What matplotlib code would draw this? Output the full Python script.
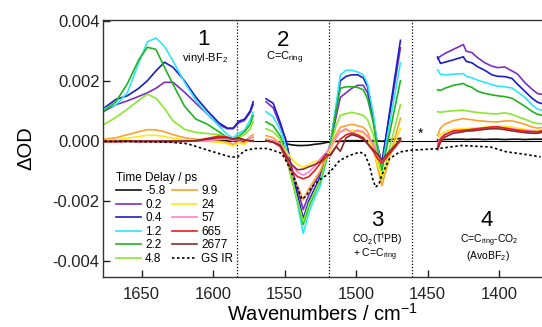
import matplotlib
matplotlib.use("Agg")
import matplotlib.pyplot as plt
import numpy as np
from matplotlib.ticker import FormatStrFormatter

plt.rcParams["font.family"] = ["Liberation Sans", "DejaVu Sans"]
plt.rcParams["mathtext.fontset"] = "custom"
plt.rcParams["mathtext.rm"] = "Liberation Sans"
plt.rcParams["mathtext.it"] = "Liberation Sans:italic"
plt.rcParams["mathtext.default"] = "regular"
plt.rcParams["axes.unicode_minus"] = False

# time delays (ps) and trace colours
delays = ["-5.8", "0.2", "0.4", "1.2", "2.2", "4.8", "9.9", "24", "57", "665", "2677"]
colors = ["#111111", "#7a2fc4", "#1c1cc8", "#2ee6f6", "#1fb41f", "#8ae82c",
          "#ffa12a", "#ffe81a", "#ff80cc", "#ee1c1c", "#8b2a2a"]

# region 1 (mOD), one row per delay
seg1_wn = [1676, 1668, 1660, 1652, 1646, 1640, 1634, 1628, 1620, 1612, 1604, 1596, 1590, 1586, 1582, 1578, 1574, 1572]
seg1_vals = [
    [-0.02, -0.02, -0.01, -0.02, -0.01, -0.01, -0.01, -0.01, -0.01, 0.0, 0.0, 0.0, 0.0, 0.0, 0.0, 0.0, 0.0, 0.0],
    [0.99, 1.2, 1.33, 1.48, 1.6, 1.75, 1.95, 1.95, 1.62, 1.25, 0.89, 0.53, 0.4, 0.4, 0.6, 0.68, 0.95, 1.2],
    [1.1, 1.38, 1.5, 1.75, 2.0, 2.33, 2.62, 2.45, 2.0, 1.45, 1.0, 0.6, 0.42, 0.42, 0.65, 0.72, 1.0, 1.3],
    [1.07, 1.2, 1.6, 2.6, 3.3, 3.43, 3.15, 2.66, 1.95, 1.35, 0.89, 0.5, 0.2, 0.1, 0.25, 0.35, 0.7, 0.95],
    [1.0, 1.3, 1.9, 2.7, 3.12, 3.05, 2.45, 1.88, 1.15, 0.72, 0.55, 0.3, 0.1, 0.05, 0.15, 0.3, 0.55, 0.84],
    [0.55, 0.78, 1.05, 1.35, 1.55, 1.42, 1.08, 0.66, 0.38, 0.28, 0.24, 0.2, 0.1, 0.02, 0.12, 0.2, 0.4, 0.64],
    [0.05, 0.1, 0.2, 0.3, 0.37, 0.36, 0.3, 0.2, 0.1, 0.05, 0.02, -0.02, -0.05, -0.12, -0.02, -0.08, 0.15, 0.2],
    [0.0, 0.03, 0.08, 0.14, 0.18, 0.18, 0.14, 0.08, 0.03, 0.0, -0.02, -0.05, -0.1, -0.18, -0.08, -0.12, 0.03, 0.05],
    [-0.03, -0.03, -0.02, -0.02, -0.02, -0.02, -0.02, -0.02, -0.02, -0.01, 0.0, 0.05, 0.05, 0.0, 0.05, 0.0, 0.1, 0.12],
    [-0.03, -0.03, -0.02, -0.03, -0.03, -0.03, -0.03, -0.03, -0.02, 0.0, 0.08, 0.15, 0.12, 0.05, 0.1, 0.02, 0.0, -0.02],
    [-0.02, -0.02, -0.02, -0.02, -0.02, -0.02, -0.02, -0.02, -0.01, 0.0, 0.05, 0.1, 0.1, 0.05, 0.08, 0.03, 0.0, 0.0],
]

# regions 2 + 3 (mOD)
seg2_wn = [1563, 1558, 1553, 1549, 1545, 1541, 1537, 1533, 1529, 1525, 1521, 1518, 1514,
           1511, 1507, 1503, 1499, 1495, 1492, 1488, 1485, 1482, 1478, 1474, 1469]
seg2_vals = [
    [0.0, -0.02, -0.05, -0.1, -0.14, -0.16, -0.16, -0.15, -0.12, -0.1, -0.06, -0.04, -0.02, -0.02, 0.0, 0.0, 0.0, 0.0, 0.0, 0.0, 0.0, -0.02, 0.02, 0.05, 0.08],
    [1.3, 1.1, 0.5, 0.0, -0.9, -1.6, -2.3, -1.8, -1.4, -1.1, -0.6, -0.15, 0.8, 1.45, 1.6, 1.75, 1.85, 1.85, 1.6, 0.7, -0.2, -0.75, 0.43, 1.62, 3.1],
    [1.4, 1.25, 0.6, 0.0, -1.0, -1.8, -2.6, -2.0, -1.6, -1.2, -0.6, -0.1, 1.1, 2.0, 2.15, 2.2, 2.2, 2.1, 1.8, 0.8, -0.2, -0.75, 0.5, 1.77, 3.35],
    [0.97, 0.8, 0.35, -0.2, -1.2, -2.1, -3.1, -2.4, -1.9, -1.5, -0.7, -0.1, 1.2, 2.2, 2.35, 2.35, 2.3, 2.2, 1.9, 0.9, -0.2, -0.9, 0.18, 1.25, 2.6],
    [0.63, 0.5, 0.15, -0.4, -1.3, -2.0, -2.8, -2.2, -1.75, -1.35, -0.65, -0.15, 1.0, 1.75, 1.8, 1.8, 1.78, 1.7, 1.4, 0.6, -0.3, -1.0, -0.08, 0.85, 2.0],
    [0.4, 0.3, 0.05, -0.5, -1.3, -2.0, -2.7, -2.1, -1.7, -1.3, -0.6, -0.2, 0.5, 0.85, 0.9, 0.95, 0.9, 0.85, 0.7, 0.2, -0.5, -1.3, -0.53, 0.24, 1.2],
    [0.17, 0.1, -0.1, -0.5, -1.1, -1.5, -1.98, -1.6, -1.3, -1.0, -0.5, -0.25, 0.2, 0.45, 0.5, 0.55, 0.5, 0.45, 0.3, -0.2, -0.9, -1.5, -0.8, -0.1, 0.75],
    [0.05, 0.0, -0.1, -0.35, -0.6, -0.8, -0.88, -0.8, -0.7, -0.65, -0.5, -0.3, 0.1, 0.3, 0.35, 0.35, 0.3, 0.25, 0.1, -0.3, -0.8, -1.2, -0.7, -0.2, 0.4],
    [0.05, 0.0, -0.1, -0.45, -0.8, -1.05, -1.15, -1.05, -0.85, -0.6, -0.4, -0.2, 0.1, 0.3, 0.4, 0.25, 0.35, 0.3, 0.15, -0.1, -0.5, -0.7, -0.48, -0.27, 0.0],
    [0.0, -0.05, -0.2, -0.6, -1.0, -1.2, -1.27, -1.2, -1.0, -0.75, -0.55, -0.45, -0.2, 0.05, 0.2, 0.25, 0.2, 0.1, -0.1, -0.35, -0.6, -0.75, -0.52, -0.29, 0.0],
    [0.0, -0.05, -0.15, -0.5, -0.8, -0.97, -0.95, -0.87, -0.8, -0.7, -0.45, -0.5, -0.2, -0.35, 0.1, 0.2, 0.15, 0.05, -0.1, -0.3, -0.45, -0.65, -0.43, -0.22, 0.05],
]

# region 4 (mOD)
seg3_wn = [1443, 1441, 1438, 1432, 1425, 1423, 1419, 1415, 1410, 1405, 1401, 1396, 1391, 1387, 1382, 1377, 1373, 1370]
seg3_vals = [
    [0.02, 0.03, 0.04, 0.05, 0.05, 0.04, 0.05, 0.05, 0.04, 0.05, 0.05, 0.04, 0.05, 0.05, 0.04, 0.05, 0.05, 0.05],
    [2.74, 2.82, 2.91, 3.05, 3.21, 2.99, 2.94, 2.77, 2.6, 2.49, 2.44, 2.46, 2.33, 2.22, 1.94, 1.72, 1.57, 1.55],
    [2.8, 2.58, 2.62, 2.7, 2.8, 2.65, 2.6, 2.47, 2.35, 2.2, 2.15, 2.14, 2.08, 1.88, 1.65, 1.42, 1.28, 1.24],
    [2.36, 2.22, 2.2, 2.22, 2.24, 2.15, 2.1, 2.02, 1.95, 1.87, 1.82, 1.8, 1.76, 1.62, 1.45, 1.2, 1.05, 1.02],
    [1.7, 1.68, 1.75, 1.85, 1.91, 1.85, 1.78, 1.65, 1.58, 1.53, 1.5, 1.47, 1.42, 1.3, 1.15, 0.98, 0.88, 0.85],
    [0.97, 0.95, 0.97, 1.0, 1.02, 1.0, 0.97, 0.94, 0.92, 0.9, 0.9, 0.93, 0.88, 0.8, 0.72, 0.62, 0.57, 0.57],
    [0.18, 0.42, 0.55, 0.67, 0.74, 0.72, 0.7, 0.67, 0.65, 0.63, 0.63, 0.66, 0.66, 0.62, 0.55, 0.46, 0.42, 0.44],
    [0.1, 0.2, 0.3, 0.38, 0.4, 0.4, 0.42, 0.43, 0.45, 0.47, 0.48, 0.48, 0.45, 0.42, 0.38, 0.35, 0.33, 0.35],
    [-0.1, 0.1, 0.22, 0.3, 0.33, 0.35, 0.37, 0.4, 0.42, 0.45, 0.45, 0.43, 0.4, 0.37, 0.35, 0.32, 0.3, 0.33],
    [-0.2, 0.05, 0.2, 0.33, 0.35, 0.36, 0.38, 0.4, 0.43, 0.46, 0.46, 0.42, 0.38, 0.35, 0.32, 0.3, 0.3, 0.33],
    [-0.3, -0.05, 0.12, 0.25, 0.3, 0.32, 0.33, 0.35, 0.38, 0.4, 0.4, 0.37, 0.33, 0.3, 0.27, 0.25, 0.25, 0.28],
]

# ground-state IR (mOD, scaled)
gs_wn = [1676, 1650, 1630, 1618, 1600, 1588, 1583, 1578, 1571, 1562, 1552, 1548, 1543, 1538,
         1535, 1531, 1525.5, 1520.6, 1516.4, 1511.5, 1504.5, 1497.5, 1494, 1490.6, 1488.4,
         1486.4, 1484, 1482.2, 1476.6, 1469.6, 1462.6, 1444, 1426, 1406, 1395, 1384, 1371]
gs_vals = [-0.02, -0.03, -0.05, -0.1, -0.37, -0.54, -0.55, -0.33, -0.26, -0.26, -0.42, -0.76,
           -1.3, -1.95, -1.85, -1.54, -1.3, -1.15, -0.94, -0.66, -0.49, -0.38, -0.45, -0.83,
           -1.27, -1.55, -1.45, -1.16, -0.6, -0.38, -0.32, -0.27, -0.16, -0.21, -0.37, -0.44, -0.54]

region_bounds = [1583, 1519, 1461]

fig = plt.figure(figsize=(5.42, 3.27), dpi=100)
ax = fig.add_axes([103 / 542, 1 - 277 / 327, 439 / 542, 257 / 327])

ax.axhline(0, color="black", lw=0.8, zorder=1)
for xb in region_bounds:
    ax.axvline(xb, color="black", ls=(0, (1, 1.5)), lw=0.9, zorder=1)

for i, lab in enumerate(delays):
    for wn, vals, first in [(seg1_wn, seg1_vals, True), (seg2_wn, seg2_vals, False), (seg3_wn, seg3_vals, False)]:
        ax.plot(wn, np.array(vals[i]) * 1e-3, color=colors[i], lw=1.2,
                label=lab if first else None, zorder=2)

ax.plot(gs_wn, np.array(gs_vals) * 1e-3, color="black", ls=(0, (1.5, 1.5)), lw=1.2,
        label="GS IR", zorder=2)

ax.set_xlim(1677, 1370)
ax.set_ylim(-0.00455, 0.00403)
ax.set_xticks([1650, 1600, 1550, 1500, 1450, 1400])
ax.set_yticks([-0.004, -0.002, 0.0, 0.002, 0.004])
ax.yaxis.set_major_formatter(FormatStrFormatter("%.3f"))
ax.tick_params(direction="in", length=5, width=1, labelsize=12, colors="#222222")
ax.tick_params(axis="x", pad=7)
ax.tick_params(axis="y", pad=2.5)
ax.spines["right"].set_visible(False)
for s in ["left", "top", "bottom"]:
    ax.spines[s].set_color("#333333")
    ax.spines[s].set_linewidth(1)

ax.set_xlabel("Wavenumbers / cm$^{-1}$", fontsize=14.5, labelpad=1)
ax.set_ylabel("ΔOD", fontsize=14.5, labelpad=12)

# region labels
ax.text(1607, 0.00338, "1", fontsize=16, ha="center", va="center")
ax.text(1605.5, 0.00266, "vinyl-BF$_2$", fontsize=8, ha="center", va="baseline")
ax.text(1551, 0.00335, "2", fontsize=16, ha="center", va="center")
ax.text(1550, 0.00270, "C=C$_{ring}$", fontsize=8, ha="center", va="baseline")
ax.text(1485.5, -0.00266, "3", fontsize=16, ha="center", va="center")
ax.text(1485, -0.00341, "CO$_2$(T$^i$PB)", fontsize=7.5, ha="center", va="baseline")
ax.text(1487, -0.00390, "+ C=C$_{ring}$", fontsize=7.5, ha="center", va="baseline")
ax.text(1408.5, -0.00266, "4", fontsize=16, ha="center", va="center")
ax.text(1407, -0.00341, "C=C$_{ring}$-CO$_2$", fontsize=7.5, ha="center", va="baseline")
ax.text(1408, -0.00395, "(AvoBF$_2$)", fontsize=7.5, ha="center", va="baseline")
ax.text(1455, 0.00022, "*", fontsize=10, ha="center", va="center")

ax.legend(ncol=2, loc="upper left", bbox_to_anchor=(0.03, 0.41), frameon=False,
          fontsize=8.5, title="Time Delay / ps", title_fontsize=8.5, alignment="left",
          handlelength=2.1, handletextpad=0.35, labelspacing=0.13, columnspacing=0.6,
          borderpad=0, borderaxespad=0)

fig.savefig("out.png", dpi=100)
plt.close(fig)
